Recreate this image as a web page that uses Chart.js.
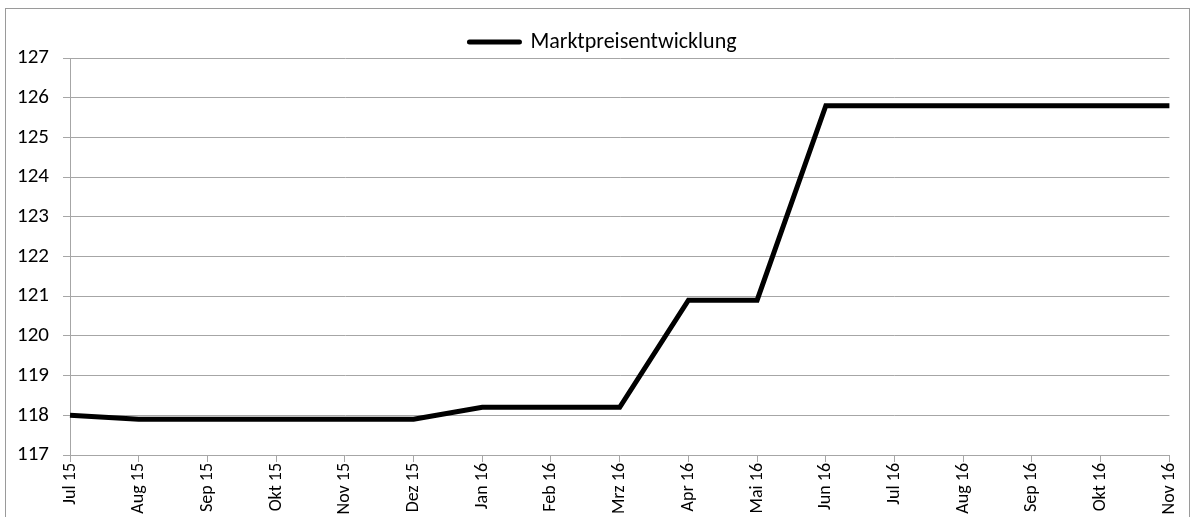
<!DOCTYPE html>
<html>
<head>
<meta charset="utf-8">
<script src="https://cdn.jsdelivr.net/npm/chart.js@4"></script>
<style>
  html, body { margin: 0; padding: 0; background: #fff; }
  #box { width: 1192px; height: 517px; position: relative; }
</style>
</head>
<body>
<div id="box"><canvas id="preisChart" width="1192" height="517"></canvas></div>
<script>
// Monate (x-Achse)
const monate = ['Jul 15', 'Aug 15', 'Sep 15', 'Okt 15', 'Nov 15', 'Dez 15',
    'Jan 16', 'Feb 16', 'Mrz 16', 'Apr 16', 'Mai 16', 'Jun 16',
    'Jul 16', 'Aug 16', 'Sep 16', 'Okt 16', 'Nov 16'];

// Marktpreis pro Monat
const marktpreis = [118.0, 117.9, 117.9, 117.9, 117.9, 117.9,
    118.2, 118.2, 118.2, 120.9, 120.9, 125.8,
    125.8, 125.8, 125.8, 125.8, 125.8];

const serienName = 'Marktpreisentwicklung';
const yMin = 117;
const yMax = 127;

const grau = '#a6a6a6';
const schrift = "Carlito, Calibri, Lato, sans-serif";

// Rahmen um das ganze Diagramm
const rahmenPlugin = {
    id: 'rahmen',
    beforeDraw(chart) {
        const ctx = chart.ctx;
        ctx.save();
        ctx.strokeStyle = '#9a9a9a';
        ctx.lineWidth = 1;
        ctx.strokeRect(5.5, 8.5, 1184, 520);
        ctx.restore();
    }
};

// Legende etwas nach unten/rechts schieben (wie im Original)
const legendeVerschieben = {
    id: 'legendeVerschieben',
    afterLayout(chart) {
        const l = chart.legend;
        if (!l) return;
        l.top += 5; l.bottom += 5;
        l.left += 18; l.right += 18;
    }
};

Chart.defaults.font.family = schrift;
Chart.defaults.color = '#000';

new Chart(document.getElementById('preisChart'), {
    type: 'line',
    data: {
        labels: monate,
        datasets: [{
            label: serienName,
            data: marktpreis,
            borderColor: '#000',
            backgroundColor: '#000',
            borderWidth: 5,
            pointRadius: 0,
            tension: 0,
            fill: false
        }]
    },
    options: {
        responsive: false,
        animation: false,
        layout: { padding: { top: 22, right: 22, left: 0, bottom: 0 } },
        plugins: {
            legend: {
                position: 'top',
                labels: {
                    font: { size: 22, family: schrift },
                    usePointStyle: true,
                    pointStyle: 'line',
                    pointStyleWidth: 50,
                    padding: 4,
                    color: '#000',
                    generateLabels(chart) {
                        return chart.data.datasets.map((ds, i) => ({
                            text: ds.label,
                            strokeStyle: '#000',
                            fillStyle: '#000',
                            lineWidth: 5,
                            lineCap: 'round',
                            pointStyle: 'line',
                            hidden: false,
                            datasetIndex: i
                        }));
                    }
                }
            },
            tooltip: { enabled: false }
        },
        scales: {
            x: {
                offset: false,
                grid: { drawOnChartArea: false, drawTicks: true, tickLength: 7, color: grau },
                border: { display: false },
                ticks: {
                    autoSkip: false,
                    maxRotation: 90,
                    minRotation: 90,
                    padding: 1,
                    font: { size: 18, family: schrift },
                    color: '#000'
                },
                afterFit(scale) { scale.height = 62; }
            },
            y: {
                min: yMin,
                max: yMax,
                grid: { color: grau, tickLength: 7 },
                border: { color: grau },
                ticks: {
                    stepSize: 1,
                    padding: 14,
                    font: { size: 21, family: schrift },
                    color: '#000'
                },
                afterFit(scale) { scale.width = 70; }
            }
        }
    },
    plugins: [rahmenPlugin, legendeVerschieben]
});
</script>
</body>
</html>
